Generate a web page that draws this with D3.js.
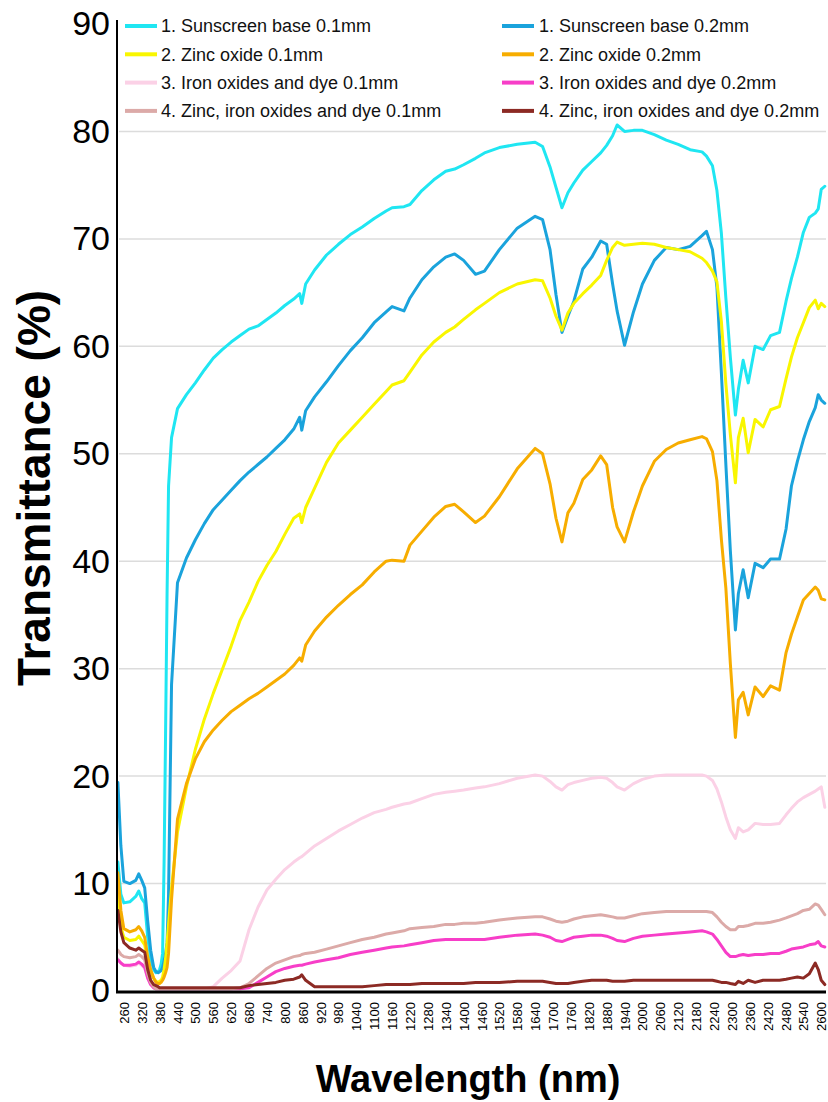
<!DOCTYPE html>
<html>
<head>
<meta charset="utf-8">
<script src="https://cdn.jsdelivr.net/npm/d3@7"></script>
<style>
  html, body { margin: 0; padding: 0; background: #fff; }
  svg { display: block; }
  text { font-family: "Liberation Sans", Arial, Helvetica, sans-serif; }
</style>
</head>
<body>
<script>
// ---------- DATA ----------
const wavelength = [
  240,250,260,280,300,310,320,330,340,350,
  360,368,375,380,385,390,395,400,405,410,
  420,440,470,500,530,560,590,620,650,680,
  710,740,770,800,830,850,857,870,900,940,
  980,1020,1060,1100,1140,1160,1200,1220,1260,1300,
  1340,1370,1400,1440,1470,1520,1580,1640,1665,1690,
  1710,1730,1750,1770,1800,1830,1860,1880,1900,1915,
  1940,1970,2000,2040,2080,2120,2160,2200,2215,2235,
  2250,2265,2280,2295,2312,2322,2338,2355,2378,2405,
  2430,2460,2482,2500,2520,2540,2560,2580,2590,2600,
  2612
];

const sunscreen01 = [
  12.0,9.0,8.2,8.3,8.8,9.3,8.6,8.2,5.0,3.0,
  2.0,1.7,1.8,2.0,2.5,3.5,12.0,24.0,37.0,47.0,
  51.5,54.2,55.5,56.6,57.8,58.9,59.7,60.4,61.0,61.6,
  61.9,62.5,63.1,63.8,64.4,64.9,64.0,65.8,67.1,68.5,
  69.5,70.4,71.1,71.9,72.6,72.9,73.0,73.2,74.5,75.5,
  76.3,76.5,76.9,77.5,78.0,78.5,78.8,79.0,78.6,76.7,
  74.8,72.9,74.3,75.2,76.4,77.2,78.0,78.7,79.6,80.6,
  80.0,80.1,80.1,79.7,79.2,78.8,78.3,78.1,77.7,76.8,
  74.5,70.5,64.5,59.0,53.6,56.0,58.7,56.6,60.0,59.7,
  61.0,61.3,64.2,66.3,68.3,70.6,72.0,72.4,72.8,74.6,
  74.9
];
const sunscreen02 = [
  19.4,13.5,10.2,10.0,10.3,10.9,10.3,9.6,6.5,3.8,
  2.2,1.8,1.7,1.8,1.9,2.2,2.8,3.5,4.5,9.0,
  28.5,38.0,40.3,42.0,43.5,44.8,45.7,46.6,47.5,48.3,
  49.0,49.7,50.5,51.3,52.3,53.4,52.2,54.0,55.3,56.7,
  58.2,59.6,60.8,62.2,63.2,63.7,63.3,64.5,66.2,67.4,
  68.3,68.6,68.0,66.7,67.0,69.0,71.0,72.1,71.8,69.0,
  64.8,61.3,62.8,64.2,67.2,68.3,69.8,69.5,65.8,63.3,
  60.1,63.2,65.8,68.0,69.2,69.0,69.3,70.3,70.7,69.0,
  65.5,57.5,49.0,41.0,33.6,37.0,39.2,36.6,39.8,39.4,
  40.2,40.2,43.0,47.0,49.3,51.3,53.0,54.3,55.5,55.0,
  54.7
];
const zinc01 = [
  9.0,6.0,5.0,4.7,4.8,5.1,4.7,4.3,2.8,1.8,
  1.2,0.9,0.8,0.9,1.0,1.3,2.0,3.0,4.5,6.2,
  9.6,14.8,19.0,22.5,25.3,27.7,29.9,32.1,34.5,36.2,
  38.1,39.6,40.9,42.5,44.0,44.4,43.6,45.0,46.8,49.2,
  51.0,52.2,53.4,54.6,55.8,56.4,56.8,57.6,59.2,60.4,
  61.3,61.8,62.5,63.4,64.0,65.0,65.8,66.2,66.1,64.5,
  62.8,61.5,63.1,64.0,64.9,65.7,66.6,68.0,69.2,69.7,
  69.4,69.5,69.6,69.5,69.2,69.0,68.8,68.2,67.8,67.0,
  66.0,62.3,56.5,51.8,47.3,51.5,53.3,50.1,53.2,52.5,
  54.1,54.4,57.0,59.0,60.8,62.2,63.6,64.3,63.5,64.0,
  63.7
];
const zinc02 = [
  11.0,7.5,5.8,5.5,5.7,6.0,5.6,5.0,3.2,2.0,
  1.2,0.8,0.7,0.7,0.8,1.0,1.3,1.7,2.2,3.5,
  8.5,16.0,19.3,21.6,23.2,24.3,25.2,26.0,26.6,27.2,
  27.7,28.3,28.9,29.5,30.3,31.0,30.7,32.2,33.5,34.8,
  35.9,36.9,37.8,39.0,40.0,40.1,40.0,41.5,42.8,44.1,
  45.1,45.3,44.6,43.6,44.2,46.0,48.6,50.5,50.0,47.2,
  44.0,41.8,44.5,45.4,47.6,48.5,49.8,49.0,45.0,43.2,
  41.8,44.6,47.0,49.3,50.4,51.0,51.3,51.6,51.4,50.2,
  47.5,42.0,37.5,30.5,23.6,27.1,27.8,25.7,28.3,27.4,
  28.4,28.0,31.5,33.2,34.8,36.4,37.0,37.6,37.3,36.5,
  36.4
];
const iron01 = [
  3.0,2.6,2.4,2.3,2.4,2.6,2.4,2.1,1.2,0.6,
  0.3,0.2,0.2,0.2,0.2,0.2,0.2,0.2,0.2,0.2,
  0.2,0.2,0.2,0.2,0.2,0.4,1.2,1.9,2.8,5.7,
  7.8,9.4,10.4,11.3,12.0,12.4,12.5,12.8,13.5,14.2,
  14.9,15.5,16.1,16.6,16.9,17.1,17.4,17.5,17.9,18.3,
  18.5,18.6,18.7,18.9,19.0,19.3,19.8,20.1,20.0,19.5,
  19.0,18.7,19.2,19.4,19.6,19.8,19.9,19.8,19.4,19.0,
  18.7,19.3,19.7,20.0,20.1,20.1,20.1,20.1,20.0,19.6,
  18.8,17.6,16.2,15.0,14.2,15.2,14.8,15.0,15.6,15.5,
  15.5,15.6,16.4,17.0,17.6,18.0,18.3,18.6,18.8,19.0,
  17.1
];
const iron02 = [
  2.9,2.6,2.4,2.4,2.5,2.7,2.5,2.2,1.2,0.6,
  0.3,0.2,0.2,0.2,0.2,0.2,0.2,0.2,0.2,0.2,
  0.2,0.2,0.2,0.2,0.2,0.2,0.2,0.2,0.2,0.3,
  0.8,1.3,1.8,2.1,2.3,2.4,2.4,2.5,2.7,2.9,
  3.1,3.4,3.6,3.8,4.0,4.1,4.2,4.3,4.5,4.7,
  4.8,4.8,4.8,4.8,4.8,5.0,5.2,5.3,5.2,5.0,
  4.7,4.6,4.8,5.0,5.1,5.2,5.2,5.1,4.9,4.7,
  4.6,4.9,5.1,5.2,5.3,5.4,5.5,5.6,5.5,5.3,
  4.8,4.2,3.6,3.2,3.2,3.3,3.4,3.3,3.4,3.4,
  3.5,3.5,3.7,3.9,4.0,4.1,4.3,4.4,4.6,4.2,
  4.1
];
const zincIron01 = [
  3.8,3.4,3.2,3.1,3.2,3.4,3.2,2.9,1.6,0.8,
  0.4,0.2,0.2,0.2,0.2,0.2,0.2,0.2,0.2,0.2,
  0.2,0.2,0.2,0.2,0.2,0.2,0.2,0.2,0.3,0.7,
  1.4,2.1,2.6,2.9,3.2,3.3,3.4,3.5,3.6,3.9,
  4.2,4.5,4.8,5.0,5.3,5.4,5.6,5.8,5.9,6.0,
  6.2,6.2,6.3,6.3,6.4,6.6,6.8,6.9,6.9,6.7,
  6.5,6.4,6.5,6.7,6.9,7.0,7.1,7.0,6.9,6.8,
  6.8,7.0,7.2,7.3,7.4,7.4,7.4,7.4,7.4,7.3,
  6.9,6.4,6.0,5.7,5.7,6.0,6.0,6.1,6.3,6.3,
  6.4,6.6,6.8,7.0,7.2,7.5,7.6,8.1,8.0,7.6,
  7.1
];
const zincIron02 = [
  7.5,5.5,4.5,4.0,3.8,4.0,3.8,3.6,2.0,1.0,
  0.6,0.5,0.4,0.3,0.3,0.3,0.3,0.3,0.3,0.3,
  0.3,0.3,0.3,0.3,0.3,0.3,0.3,0.3,0.3,0.5,
  0.6,0.7,0.8,1.0,1.1,1.3,1.5,1.0,0.4,0.4,
  0.4,0.4,0.4,0.5,0.6,0.6,0.6,0.6,0.7,0.7,
  0.7,0.7,0.7,0.8,0.8,0.8,0.9,0.9,0.9,0.8,
  0.7,0.7,0.7,0.8,0.9,1.0,1.0,1.0,0.9,0.9,
  0.9,1.0,1.0,1.0,1.0,1.0,1.0,1.0,1.0,1.0,
  0.9,0.8,0.8,0.7,0.6,0.9,0.7,1.0,0.8,1.0,
  1.0,1.0,1.1,1.2,1.3,1.2,1.6,2.6,2.0,1.0,
  0.6
];

const seriesNames = [
  "1. Sunscreen base 0.1mm", "1. Sunscreen base 0.2mm",
  "2. Zinc oxide 0.1mm", "2. Zinc oxide 0.2mm",
  "3. Iron oxides and dye 0.1mm", "3. Iron oxides and dye 0.2mm",
  "4. Zinc, iron oxides and dye 0.1mm", "4. Zinc, iron oxides and dye 0.2mm"
];
const seriesValues = [sunscreen01, sunscreen02, zinc01, zinc02, iron01, iron02, zincIron01, zincIron02];
const seriesColors = ["#1fe6f2", "#1aa3dc", "#f9f600", "#f7ad00", "#fbd1e6", "#f73ec8", "#dcaaa8", "#8c2a24"];

const xTickLabels = d3.range(260, 2601, 60);
const yTickLabels = [0,10,20,30,40,50,60,70,80,90];
const xTitle = "Wavelength (nm)";
const yTitle = "Transmittance (%)";

// ---------- CHART ----------
const W = 828, H = 1102;
const svg = d3.select("body").append("svg").attr("width", W).attr("height", H);

const x = d3.scaleLinear().domain([237, 2616]).range([117, 826]);
const y = d3.scaleLinear().domain([0, 90]).range([991, 24]);

// gridlines
svg.append("g").selectAll("line")
  .data(yTickLabels.filter(v => v > 0 && v < 90))
  .join("line")
  .attr("x1", 119).attr("x2", 826)
  .attr("y1", d => y(d)).attr("y2", d => y(d))
  .attr("stroke", "#dcdcdc").attr("stroke-width", 1.5);

// y axis
const yAxis = d3.axisLeft(y).tickValues(yTickLabels).tickSize(0).tickPadding(7).tickFormat(d3.format("d"));
const gy = svg.append("g").attr("transform", "translate(117,0)").call(yAxis);
gy.select(".domain").remove();
gy.selectAll("text").attr("font-size", 34).attr("fill", "#000")
  .attr("font-family", "'Liberation Sans', Arial, sans-serif");

// x axis
const xAxis = d3.axisBottom(x).tickValues(xTickLabels).tickSize(0).tickPadding(0).tickFormat(d3.format("d"));
const gx = svg.append("g").attr("transform", "translate(0,992)").call(xAxis);
gx.select(".domain").remove();
gx.selectAll("text")
  .attr("font-size", 13).attr("fill", "#000")
  .attr("font-family", "'Liberation Sans', Arial, sans-serif")
  .attr("transform", "rotate(-90)")
  .attr("text-anchor", "end")
  .attr("x", -10).attr("y", 0).attr("dy", "0.35em");

// lines
const line = d3.line()
  .x((d, i) => x(wavelength[i]))
  .y(d => y(d));

svg.append("g").selectAll("path")
  .data(seriesValues)
  .join("path")
  .attr("d", d => line(d))
  .attr("fill", "none")
  .attr("stroke", (d, i) => seriesColors[i])
  .attr("stroke-width", 3)
  .attr("stroke-linejoin", "round")
  .attr("stroke-linecap", "round");

// axis lines
svg.append("line").attr("x1", 117).attr("x2", 117).attr("y1", 20).attr("y2", 993)
  .attr("stroke", "#000").attr("stroke-width", 2);
svg.append("line").attr("x1", 116).attr("x2", 826).attr("y1", 992).attr("y2", 992)
  .attr("stroke", "#000").attr("stroke-width", 3);

// legend
const legend = svg.append("g");
const legItems = legend.selectAll("g").data(seriesNames).join("g")
  .attr("transform", (d, i) => {
    const col = i % 2, row = Math.floor(i / 2);
    return `translate(${col === 0 ? 125 : 502},${26 + row * 28.3})`;
  });
legItems.append("line").attr("x1", 0).attr("x2", 32).attr("y1", 0).attr("y2", 0)
  .attr("stroke", (d, i) => seriesColors[i]).attr("stroke-width", 4);
legItems.append("text").attr("x", (d, i) => i % 2 === 0 ? 36 : 37).attr("y", 0).attr("dy", "0.35em")
  .attr("font-size", 18).attr("fill", "#111").text(d => d);

// titles
svg.append("text").attr("x", 468).attr("y", 1092).attr("text-anchor", "middle")
  .attr("font-size", 38).attr("font-weight", "bold").attr("fill", "#000").text(xTitle);
svg.append("text").attr("transform", "translate(50,488) rotate(-90)").attr("text-anchor", "middle")
  .attr("font-size", 46).attr("font-weight", "bold").attr("fill", "#000").text(yTitle);
</script>
</body>
</html>
